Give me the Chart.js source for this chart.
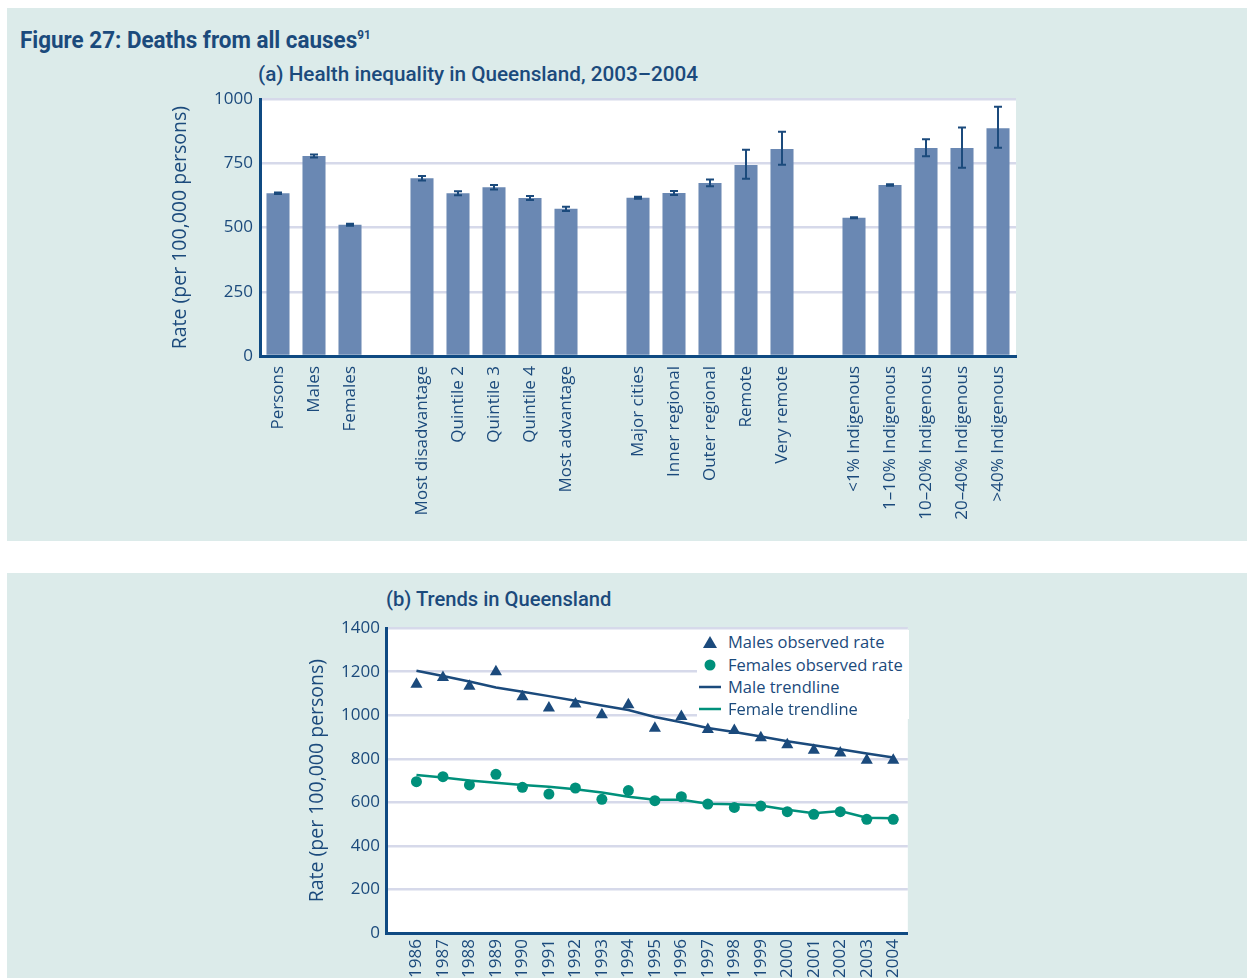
<!DOCTYPE html>
<html>
<head>
<meta charset="utf-8">
<script src="https://cdn.jsdelivr.net/npm/chart.js@4.4.1/dist/chart.umd.min.js"></script>
<style>
  html, body { margin: 0; padding: 0; }
  body { width: 1247px; height: 978px; overflow: hidden; position: relative; background: #ffffff;
         font-family: "Open Sans", sans-serif; color: #1b4a7c; }
  .panel { position: absolute; left: 7px; width: 1240px; background: #dcebea; }
  #panelA { top: 8px; height: 533px; }
  #panelB { top: 573px; height: 405px; }
  .heading { position: absolute; white-space: nowrap; color: #1b4a7c; line-height: 24px; transform-origin: 0 50%; }
  #figTitle { left: 20px; top: 27px; font: 700 23px Roboto, sans-serif; transform: scaleX(0.975); }
  #figTitle sup { font-size: 12px; vertical-align: 9px; line-height: 0; }
  #titleA { left: 258px; top: 62px; font: 500 21px Roboto, sans-serif; transform: scaleX(0.985); }
  #titleB { left: 386px; top: 587px; font: 500 21px Roboto, sans-serif; transform: scaleX(0.96); }
  .chartBox { position: absolute; }
  #boxA { left: 160px; top: 82px; width: 870px; height: 458px; }
  #boxB { left: 300px; top: 612px; width: 620px; height: 366px; }
  #legendB { position: absolute; left: 697px; top: 630px; width: 212px; height: 89px; background: #ffffff; }
  .item { position: absolute; left: 0; height: 22px; width: 212px; font-size: 16.5px; line-height: 22px; color: #1b4a7c; white-space: nowrap; }
  .item svg { position: absolute; left: 0; top: 0; }
  .item span { position: absolute; left: 31px; top: 0; }
</style>
</head>
<body>
<div class="panel" id="panelA"></div>
<div class="panel" id="panelB"></div>

<div class="heading" id="figTitle">Figure 27: Deaths from all causes<sup>91</sup></div>
<div class="heading" id="titleA">(a) Health inequality in Queensland, 2003–2004</div>
<div class="heading" id="titleB">(b) Trends in Queensland</div>

<div class="chartBox" id="boxA"><canvas id="chartA"></canvas></div>
<div class="chartBox" id="boxB"><canvas id="chartB"></canvas></div>

<div id="legendB">
  <div class="item" style="top:1px"><svg width="26" height="22"><polygon points="13,5 20,17 6,17" fill="#1b4a7c"/></svg><span>Males observed rate</span></div>
  <div class="item" style="top:24px"><svg width="26" height="22"><circle cx="13" cy="11" r="5.5" fill="#00907b"/></svg><span>Females observed rate</span></div>
  <div class="item" style="top:46px"><svg width="26" height="22"><line x1="2" y1="11" x2="24" y2="11" stroke="#1b4a7c" stroke-width="2.5"/></svg><span>Male trendline</span></div>
  <div class="item" style="top:68px"><svg width="26" height="22"><line x1="2" y1="11" x2="24" y2="11" stroke="#00907b" stroke-width="2.5"/></svg><span>Female trendline</span></div>
</div>

<script>
// ---- (a) Health inequality in Queensland, 2003–2004 ----
// Empty strings are spacer slots between the four groups.
const categories = [
  'Persons', 'Males', 'Females', '',
  'Most disadvantage', 'Quintile 2', 'Quintile 3', 'Quintile 4', 'Most advantage', '',
  'Major cities', 'Inner regional', 'Outer regional', 'Remote', 'Very remote', '',
  '<1% Indigenous', '1–10% Indigenous', '10–20% Indigenous', '20–40% Indigenous', '>40% Indigenous'
];
const rates      = [634, 779, 511, null, 692, 634, 657, 615, 573, null, 616, 635, 674, 744, 806, null, 538, 666, 810, 810, 887];
const lowerBound = [631, 773, 507, null, 683, 626, 648, 607, 565, null, 612, 627, 661, 690, 745, null, 536, 663, 778, 733, 811];
const upperBound = [637, 785, 515, null, 701, 642, 666, 623, 581, null, 620, 643, 687, 803, 873, null, 540, 669, 844, 890, 971];
const rateTicksA = [0, 250, 500, 750, 1000];

// ---- (b) Trends in Queensland ----
const years       = [1986, 1987, 1988, 1989, 1990, 1991, 1992, 1993, 1994, 1995, 1996, 1997, 1998, 1999, 2000, 2001, 2002, 2003, 2004];
const maleRate    = [1142, 1173, 1133, 1200, 1085, 1033, 1052, 1003, 1048, 941, 994, 935, 930, 897, 865, 839, 827, 794, 794];
const femaleRate  = [695, 718, 680, 729, 669, 638, 666, 614, 654, 608, 626, 592, 577, 583, 557, 545, 557, 522, 522];
const maleTrend   = [1205, 1180, 1155, 1128, 1108, 1088, 1067, 1045, 1024, 992, 968, 942, 923, 903, 881, 862, 844, 824, 806];
const femaleTrend = [726, 714, 700, 690, 680, 672, 660, 645, 626, 612, 612, 594, 591, 586, 566, 550, 560, 529, 527];
const rateTicksB  = [0, 200, 400, 600, 800, 1000, 1200, 1400];

const NAVY = '#1b4a7c';
const AXIS = '#0f4a82';
const BAR = '#6a88b3';
const GRID = '#d6d9ea';
const TEAL = '#00907b';
const TICK_FONT = { family: '"Open Sans", sans-serif', size: 17 };
const TITLE_FONT = { family: '"Open Sans", sans-serif', size: 19.5 };

Chart.defaults.color = NAVY;
Chart.defaults.animation = false;

// White plotting area on the tinted panel
const plotBackground = {
  id: 'plotBackground',
  beforeDraw(chart) {
    const { ctx, chartArea: a } = chart;
    ctx.save();
    ctx.fillStyle = '#ffffff';
    ctx.fillRect(a.left, a.top, a.right - a.left, a.bottom - a.top);
    ctx.restore();
  }
};

// Confidence interval whiskers on each bar
const errorBars = {
  id: 'errorBars',
  afterDatasetsDraw(chart) {
    const { ctx, scales: { x, y } } = chart;
    ctx.save();
    ctx.strokeStyle = NAVY;
    ctx.lineWidth = 2;
    lowerBound.forEach((lo, i) => {
      if (lo == null) return;
      const px = x.getPixelForValue(i);
      const yLo = y.getPixelForValue(lo);
      const yHi = y.getPixelForValue(upperBound[i]);
      ctx.beginPath();
      ctx.moveTo(px, yLo); ctx.lineTo(px, yHi);
      ctx.moveTo(px - 4, yLo); ctx.lineTo(px + 4, yLo);
      ctx.moveTo(px - 4, yHi); ctx.lineTo(px + 4, yHi);
      ctx.stroke();
    });
    ctx.restore();
  }
};

new Chart(document.getElementById('chartA'), {
  type: 'bar',
  data: {
    labels: categories,
    datasets: [{
      data: rates,
      backgroundColor: BAR,
      borderWidth: 0,
      barPercentage: 0.64,
      categoryPercentage: 1
    }]
  },
  options: {
    responsive: true,
    maintainAspectRatio: false,
    layout: { padding: { left: 5, right: 14, top: 9, bottom: 0 } },
    plugins: { legend: { display: false }, tooltip: { enabled: false } },
    scales: {
      x: {
        grid: { display: false, drawTicks: false },
        border: { display: true, color: AXIS, width: 3 },
        ticks: { autoSkip: false, minRotation: 90, maxRotation: 90, font: TICK_FONT, color: NAVY, padding: 10 },
        afterFit(scale) { scale.height = 184; }
      },
      y: {
        min: 0, max: 1000,
        afterBuildTicks(scale) { scale.ticks = rateTicksA.map(v => ({ value: v })); },
        grid: { color: GRID, lineWidth: 2.5, drawTicks: false },
        border: { display: true, color: AXIS, width: 3 },
        ticks: { font: TICK_FONT, color: NAVY, padding: 7, callback: v => String(v) },
        title: { display: true, text: 'Rate (per 100,000 persons)', font: TITLE_FONT, color: NAVY, padding: 4 },
        afterFit(scale) { scale.width = 95; }
      }
    }
  },
  plugins: [plotBackground, errorBars]
});

const toPoints = arr => arr.map((v, i) => ({ x: years[i], y: v }));

new Chart(document.getElementById('chartB'), {
  type: 'scatter',
  data: {
    datasets: [
      { label: 'Male trendline', data: toPoints(maleTrend), showLine: true, borderColor: NAVY, borderWidth: 2.5,
        pointRadius: 0, fill: false, tension: 0 },
      { label: 'Female trendline', data: toPoints(femaleTrend), showLine: true, borderColor: TEAL, borderWidth: 2.5,
        pointRadius: 0, fill: false, tension: 0 },
      { label: 'Males observed rate', data: toPoints(maleRate), pointStyle: 'triangle', pointRadius: 7,
        backgroundColor: NAVY, borderColor: NAVY, borderWidth: 0 },
      { label: 'Females observed rate', data: toPoints(femaleRate), pointStyle: 'circle', pointRadius: 5.5,
        backgroundColor: TEAL, borderColor: TEAL, borderWidth: 0 }
    ]
  },
  options: {
    responsive: true,
    maintainAspectRatio: false,
    layout: { padding: { left: 2, right: 12, top: 12, bottom: 0 } },
    plugins: { legend: { display: false }, tooltip: { enabled: false } },
    scales: {
      x: {
        type: 'linear',
        min: 1984.85, max: 2004.55,
        afterBuildTicks(scale) { scale.ticks = years.map(v => ({ value: v })); },
        grid: { display: false, drawTicks: false },
        border: { display: true, color: AXIS, width: 3 },
        ticks: { autoSkip: false, minRotation: 90, maxRotation: 90, font: TICK_FONT, color: NAVY, padding: 6,
                 callback: v => String(v) },
        afterFit(scale) { scale.height = 45; }
      },
      y: {
        min: 0, max: 1400,
        afterBuildTicks(scale) { scale.ticks = rateTicksB.map(v => ({ value: v })); },
        grid: { color: GRID, lineWidth: 2.5, drawTicks: false },
        border: { display: true, color: AXIS, width: 3 },
        ticks: { font: TICK_FONT, color: NAVY, padding: 6, callback: v => String(v) },
        title: { display: true, text: 'Rate (per 100,000 persons)', font: TITLE_FONT, color: NAVY, padding: 4 },
        afterFit(scale) { scale.width = 84; }
      }
    }
  },
  plugins: [plotBackground]
});
</script>
</body>
</html>
